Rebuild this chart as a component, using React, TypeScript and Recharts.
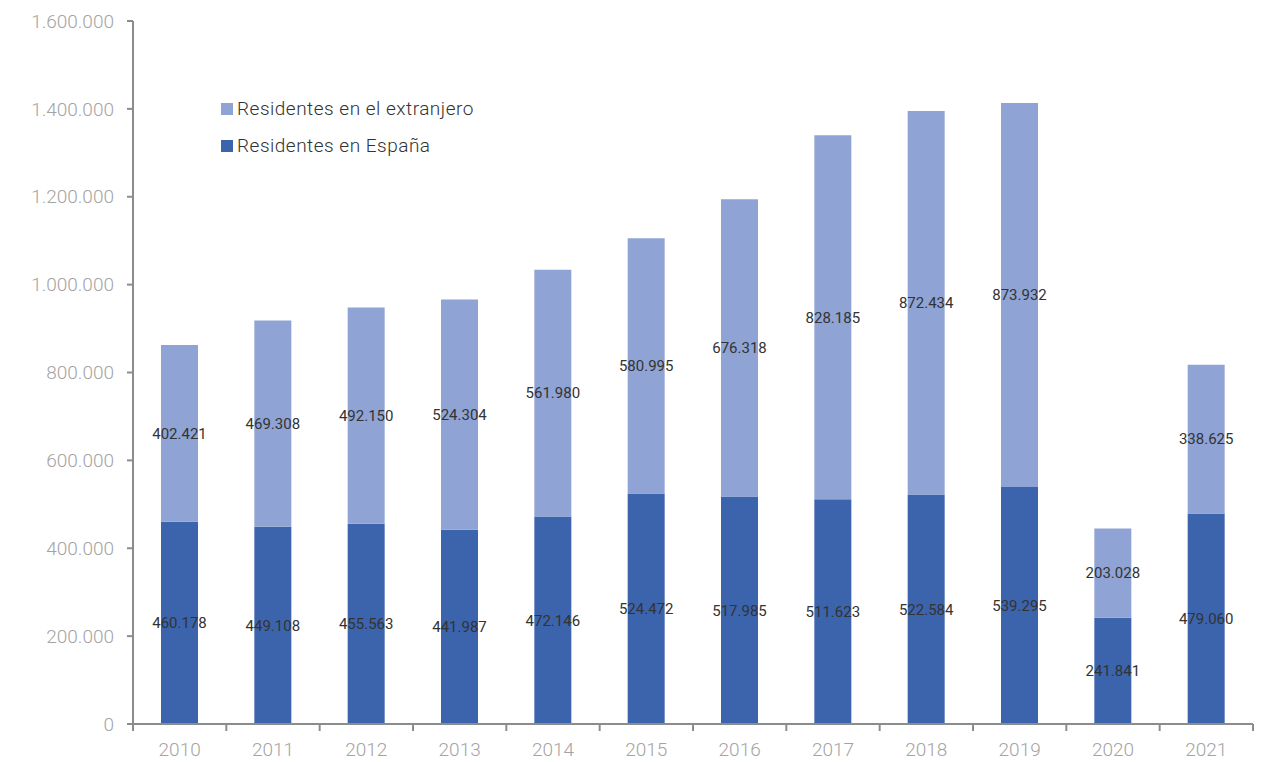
import React from 'react';
import { BarChart, Bar, XAxis, YAxis, LabelList } from 'recharts';

const years = ['2010', '2011', '2012', '2013', '2014', '2015', '2016', '2017', '2018', '2019', '2020', '2021'];
const residentesEspana = [460178, 449108, 455563, 441987, 472146, 524472, 517985, 511623, 522584, 539295, 241841, 479060];
const residentesExtranjero = [402421, 469308, 492150, 524304, 561980, 580995, 676318, 828185, 872434, 873932, 203028, 338625];
const yTicks = [0, 200000, 400000, 600000, 800000, 1000000, 1200000, 1400000, 1600000];

const COLOR_ES = '#3b64ad';
const COLOR_EXT = '#8fa3d5';
const AXIS = '#8c8c8c';
const TICK_TEXT = '#a3a3a3';

const W = 1274;
const H = 762;
const X_HEIGHT = 38;
const M = { top: 21, right: 21, bottom: 0, left: 0 };
const Y_WIDTH = 133;
const BAND = (W - Y_WIDTH - M.right) / years.length;

// puntos de miles al estilo español
const fmt = (v: number) => String(Math.round(v)).replace(/\B(?=(\d{3})+(?!\d))/g, '.');

const data = years.map((y, i) => ({
    year: y,
    espana: residentesEspana[i],
    extranjero: residentesExtranjero[i],
}));

function XTick(props: any) {
    const { x, y, payload, index } = props;
    const last = index === years.length - 1;
    return (
        <g>
            <line x1={x - BAND / 2} y1={y} x2={x - BAND / 2} y2={y + 7} stroke={AXIS} strokeWidth={2} />
            {last && <line x1={x + BAND / 2} y1={y} x2={x + BAND / 2} y2={y + 7} stroke={AXIS} strokeWidth={2} />}
            <text x={x} y={y + 32} textAnchor="middle" fill={TICK_TEXT} fontSize={19} fontFamily="Roboto" fontWeight={300}>
                {payload.value}
            </text>
        </g>
    );
}

function Legend() {
    const items = [
        { label: 'Residentes en el extranjero', color: COLOR_EXT },
        { label: 'Residentes en España', color: COLOR_ES },
    ];
    return (
        <div style={{ position: 'absolute', left: 221, top: 90, fontFamily: 'Roboto', fontSize: 19, fontWeight: 300, letterSpacing: 0.5, color: '#333' }}>
            {items.map((it) => (
                <div key={it.label} style={{ display: 'flex', alignItems: 'center', height: 37 }}>
                    <span style={{ display: 'inline-block', width: 12, height: 12, background: it.color, marginRight: 4 }} />
                    <span>{it.label}</span>
                </div>
            ))}
        </div>
    );
}

export default function App() {
    return (
        <div style={{ position: 'absolute', left: 0, top: 0, width: W, height: H, background: '#fff' }}>
            <BarChart width={W} height={H} data={data} margin={M} barCategoryGap="30%">
                <XAxis
                    dataKey="year"
                    axisLine={{ stroke: AXIS, strokeWidth: 2 }}
                    tickLine={false}
                    tickSize={0}
                    tickMargin={0}
                    height={X_HEIGHT}
                    interval={0}
                    tick={<XTick />}
                />
                <YAxis
                    width={Y_WIDTH}
                    domain={[0, 1600000]}
                    ticks={yTicks}
                    interval={0}
                    axisLine={{ stroke: AXIS, strokeWidth: 2 }}
                    tickLine={{ stroke: AXIS, strokeWidth: 2 }}
                    tickSize={6}
                    tickMargin={13}
                    tickFormatter={fmt}
                    tick={{ fill: TICK_TEXT, fontSize: 19, fontFamily: 'Roboto', fontWeight: 300 }}
                />
                <Bar dataKey="espana" stackId="a" fill={COLOR_ES} isAnimationActive={false}>
                    <LabelList dataKey="espana" position="center" formatter={(v: any) => fmt(Number(v))} fill="#333" fontSize={15} fontFamily="Roboto" />
                </Bar>
                <Bar dataKey="extranjero" stackId="a" fill={COLOR_EXT} isAnimationActive={false}>
                    <LabelList dataKey="extranjero" position="center" formatter={(v: any) => fmt(Number(v))} fill="#333" fontSize={15} fontFamily="Roboto" />
                </Bar>
            </BarChart>
            <Legend />
        </div>
    );
}
